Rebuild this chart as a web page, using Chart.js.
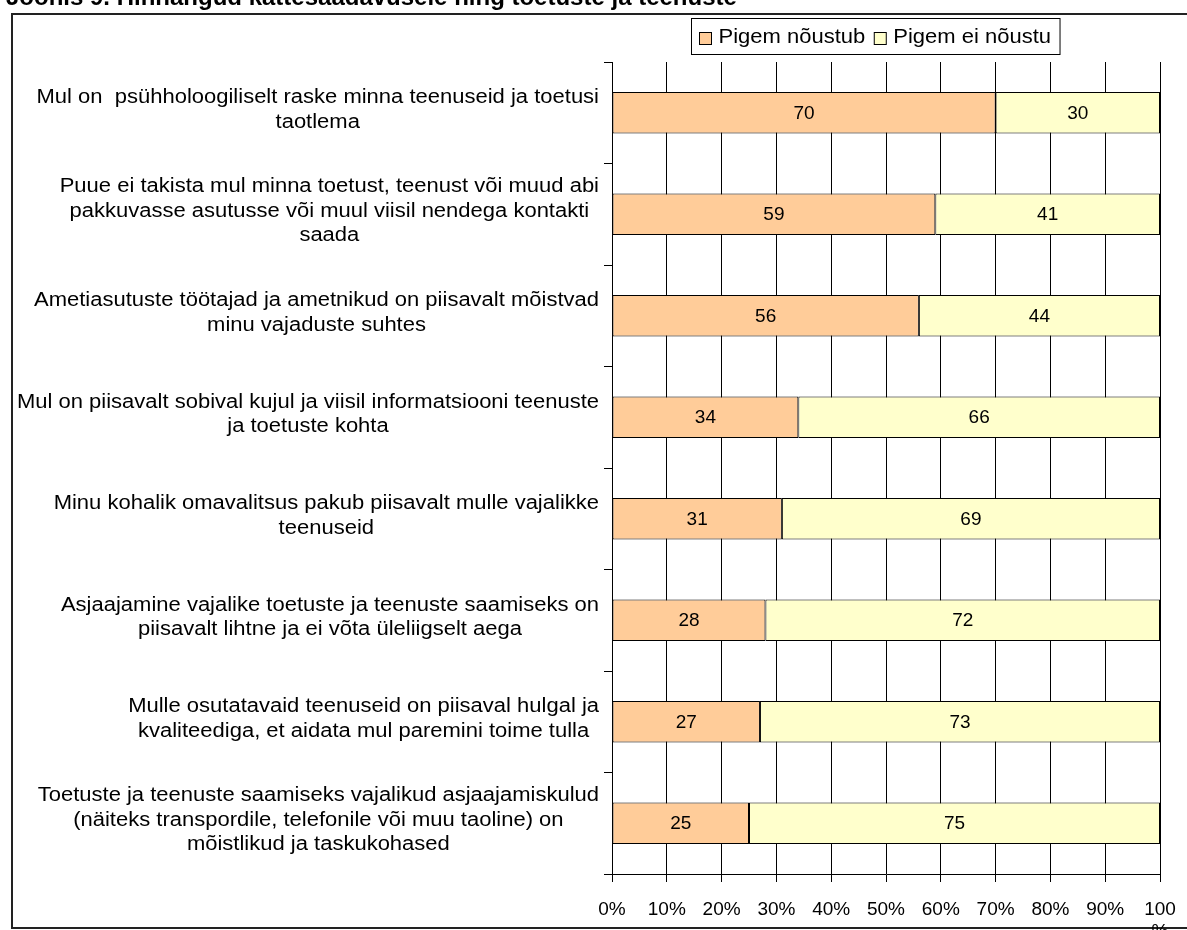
<!DOCTYPE html>
<html lang="et">
<head>
<meta charset="UTF-8" />
<title>Hinnangud toetustele ja teenustele</title>
<script src="https://cdn.jsdelivr.net/npm/chart.js"></script>
<style>
  html, body { margin: 0; padding: 0; background: #fff; }
  #wrap { position: relative; width: 1187px; height: 930px; overflow: hidden; }
</style>
</head>
<body>
<div id="wrap">
  <canvas id="chart" width="1187" height="930"></canvas>
</div>

<script>
  // data
  const statements = [
    ["Mul on  psühholoogiliselt raske minna teenuseid ja toetusi", "taotlema"],
    ["Puue ei takista mul minna toetust, teenust või muud abi", "pakkuvasse asutusse või muul viisil nendega kontakti", "saada"],
    ["Ametiasutuste töötajad ja ametnikud on piisavalt mõistvad", "minu vajaduste suhtes"],
    ["Mul on piisavalt sobival kujul ja viisil informatsiooni teenuste", "ja toetuste kohta"],
    ["Minu kohalik omavalitsus pakub piisavalt mulle vajalikke", "teenuseid"],
    ["Asjaajamine vajalike toetuste ja teenuste saamiseks on", "piisavalt lihtne ja ei võta üleliigselt aega"],
    ["Mulle osutatavaid teenuseid on piisaval hulgal ja", "kvaliteediga, et aidata mul paremini toime tulla"],
    ["Toetuste ja teenuste saamiseks vajalikud asjaajamiskulud", "(näiteks transpordile, telefonile või muu taoline) on", "mõistlikud ja taskukohased"]
  ];
  const agree = [70, 59, 56, 34, 31, 28, 27, 25];
  const disagree = [30, 41, 44, 66, 69, 72, 73, 75];
  const seriesNames = ["Pigem nõustub", "Pigem ei nõustu"];
  const xTicks = [0, 10, 20, 30, 40, 50, 60, 70, 80, 90, 100];

  const FONT = "Liberation Sans, Arial, sans-serif";
  const WIDE = 1.1; // labels and legend are drawn a bit wider in the original

  function wideText(ctx, text, x, y) {
    ctx.save();
    ctx.translate(x, y);
    ctx.scale(WIDE, 1);
    ctx.fillText(text, 0, 0);
    ctx.restore();
  }

  // frame + clipped heading
  const framePlugin = {
    id: "frame",
    beforeDraw(chart) {
      const ctx = chart.ctx;
      ctx.save();
      ctx.fillStyle = "#fff";
      ctx.fillRect(0, 0, chart.width, chart.height);
      ctx.font = "bold 24px " + FONT;
      ctx.fillStyle = "#000";
      ctx.textBaseline = "alphabetic";
      ctx.fillText("Joonis 9. Hinnangud kättesaadavusele ning toetuste ja teenuste", 6, 5);
      ctx.strokeStyle = "#222";
      ctx.lineWidth = 2;
      ctx.strokeRect(12, 14, 1200, 914);
      ctx.restore();
    }
  };

  // category labels: block right-aligned to the axis, lines centred in the block
  const labelPlugin = {
    id: "catLabels",
    afterDraw(chart) {
      const ctx = chart.ctx;
      const y = chart.scales.y;
      const lineH = 24.5;
      const right = 599;
      ctx.save();
      ctx.font = "20px " + FONT;
      ctx.fillStyle = "#000";
      ctx.textAlign = "center";
      ctx.textBaseline = "middle";
      statements.forEach((lines, i) => {
        const cy = y.getPixelForValue(i) - 3;
        const w = WIDE * Math.max(...lines.map(l => ctx.measureText(l).width));
        const cx = right - w / 2;
        lines.forEach((l, j) => {
          wideText(ctx, l, cx, cy + (j - (lines.length - 1) / 2) * lineH);
        });
      });
      ctx.restore();
    }
  };

  // numbers inside the segments
  const valuePlugin = {
    id: "values",
    afterDatasetsDraw(chart) {
      const ctx = chart.ctx;
      ctx.save();
      ctx.font = "19px " + FONT;
      ctx.fillStyle = "#000";
      ctx.textAlign = "center";
      ctx.textBaseline = "middle";
      chart.data.datasets.forEach((ds, di) => {
        chart.getDatasetMeta(di).data.forEach((bar, i) => {
          ctx.fillText(String(ds.data[i]), (bar.x + bar.base) / 2, bar.y + 1);
        });
      });
      ctx.restore();
    }
  };

  // boxed legend above the plot
  const legendPlugin = {
    id: "boxLegend",
    afterDraw(chart) {
      const ctx = chart.ctx;
      ctx.save();
      ctx.font = "20px " + FONT;
      ctx.textBaseline = "middle";
      ctx.textAlign = "left";
      const sq = 12, gap = 7, between = 9, padL = 8, padR = 9;
      const left = 691.5, top = 18.5, h = 36;
      let total = padL + padR;
      chart.data.datasets.forEach((ds, i) => {
        total += sq + gap + WIDE * ctx.measureText(ds.label).width + (i ? between : 0);
      });
      ctx.strokeStyle = "#000";
      ctx.lineWidth = 1;
      ctx.fillStyle = "#fff";
      ctx.fillRect(left, top, total, h);
      ctx.strokeRect(left, top, total, h);
      let x = left + padL;
      const my = top + h / 2;
      chart.data.datasets.forEach((ds, i) => {
        if (i) x += between;
        const sy = Math.round(my - sq / 2 + 1) + 0.5;
        ctx.fillStyle = ds.backgroundColor;
        ctx.fillRect(x, sy, sq, sq);
        ctx.strokeRect(x, sy, sq, sq);
        x += sq + gap;
        ctx.fillStyle = "#000";
        wideText(ctx, ds.label, x, my + 1);
        x += WIDE * ctx.measureText(ds.label).width;
      });
      ctx.restore();
    }
  };

  new Chart(document.getElementById("chart"), {
    type: "bar",
    data: {
      labels: statements.map(s => s.join(" ")),
      datasets: [
        {
          label: seriesNames[0],
          data: agree,
          backgroundColor: "#FFCC99",
          borderColor: "#000",
          borderWidth: 1,
          borderSkipped: false
        },
        {
          label: seriesNames[1],
          data: disagree,
          backgroundColor: "#FFFFCC",
          borderColor: "#000",
          borderWidth: 1,
          borderSkipped: false
        }
      ]
    },
    options: {
      indexAxis: "y",
      responsive: false,
      devicePixelRatio: 1,
      animation: false,
      barPercentage: 0.41,
      categoryPercentage: 1,
      layout: { padding: { top: 62, right: 27, bottom: 0, left: 0 } },
      plugins: {
        legend: { display: false },
        tooltip: { enabled: false }
      },
      scales: {
        x: {
          stacked: true,
          min: 0,
          max: 100,
          afterBuildTicks(scale) {
            scale.ticks = xTicks.map(v => ({ value: v }));
          },
          afterFit(scale) {
            scale.height = 56;
            scale.paddingLeft = 0;
            scale.paddingRight = 0;
          },
          ticks: {
            color: "#000",
            font: { family: FONT, size: 19 },
            padding: 16,
            maxRotation: 0,
            autoSkip: false,
            callback: v => (v === 100 ? ["100", "%"] : v + "%")
          },
          grid: { color: "#000", lineWidth: 1, tickLength: 8 },
          border: { color: "#000", width: 1 }
        },
        y: {
          stacked: true,
          offset: true,
          afterFit(scale) { scale.width = 612; },
          ticks: { display: false },
          grid: { drawOnChartArea: false, offset: true, color: "#000", tickLength: 8 },
          border: { color: "#000", width: 1 }
        }
      }
    },
    plugins: [framePlugin, legendPlugin, labelPlugin, valuePlugin]
  });
</script>
</body>
</html>
